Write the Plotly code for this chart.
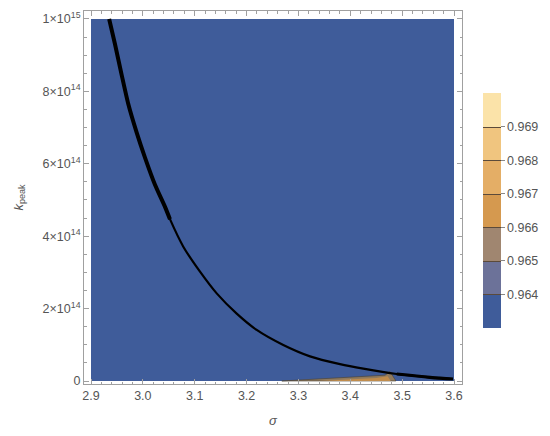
import plotly.graph_objects as go

# plot range of the density region
sigma_range = [2.9, 3.6]
kpeak_range = [0, 1e15]
ns_field = [[0.9635, 0.9635], [0.9635, 0.9635]]

# colour bands 0.963 .. 0.970
band_colors = ["#3f5c9a", "#6c7299", "#a08670", "#d5994f", "#e4ae66", "#f0c57f", "#fbe3a9"]
cbar_ticks = [0.964, 0.965, 0.966, 0.967, 0.968, 0.969]

# black contour curve
curve_sigma = [2.935, 2.9463, 2.9592, 2.9719, 2.9881, 3.0041, 3.0234, 3.0427, 3.0523,
               3.078, 3.1102, 3.1424, 3.181, 3.2195, 3.2708, 3.3223, 3.3801, 3.4251,
               3.4895, 3.5537, 3.598]
curve_k = [1.0e15, 9.30e14, 8.45e14, 7.65e14, 6.86e14, 6.17e14, 5.42e14, 4.81e14, 4.47e14,
           3.71e14, 3.02e14, 2.42e14, 1.86e14, 1.41e14, 9.94e13, 6.8e13, 4.65e13, 3.4e13,
           1.93e13, 1.02e13, 5.5e12]

# thin tan sliver near k = 0
sliver_sigma = [3.268, 3.342, 3.419, 3.467, 3.4766, 3.4823, 3.488, 3.268]
sliver_k = [0, 6e12, 1.1e13, 1.6e13, 2.6e13, 1.2e13, 0, 0]
core_sigma = [3.34, 3.40, 3.45, 3.472, 3.478, 3.34]
core_k = [0, 5e12, 8e12, 1.3e13, 0, 0]

n = len(band_colors)
colorscale = []
for i, c in enumerate(band_colors):
    colorscale.append([i / n, c])
    colorscale.append([(i + 1) / n, c])

fig = go.Figure()

fig.add_trace(go.Contour(
    x=sigma_range, y=kpeak_range, z=ns_field,
    autocontour=False,
    contours=dict(start=0.964, end=0.969, size=0.001, coloring="fill", showlines=True),
    line=dict(color="#5b4a3a", width=1),
    colorscale=colorscale, zmin=0.963, zmax=0.970,
    colorbar=dict(
        thickness=18, len=255, lenmode="pixels",
        x=1.0556, xanchor="left", xpad=0, y=0.465, yanchor="middle",
        outlinewidth=0, tickvals=cbar_ticks, ticktext=[f"{t:.3f}" for t in cbar_ticks],
        ticks="outside", ticklen=4, tickcolor="#888888",
        tickfont=dict(size=12.5, color="#555555"),
    ),
    hoverinfo="skip",
))

fig.add_trace(go.Scatter(x=sliver_sigma, y=sliver_k, fill="toself", mode="lines",
                         fillcolor="#8f7a5e", line=dict(color="#4a3f30", width=0.6),
                         showlegend=False))
fig.add_trace(go.Scatter(x=core_sigma, y=core_k, fill="toself", mode="lines",
                         fillcolor="#c08c4c", line=dict(width=0), showlegend=False))

# full curve, then thicker upper part and the rough lower-right tail
fig.add_trace(go.Scatter(x=curve_sigma, y=curve_k, mode="lines",
                         line=dict(color="black", width=2.2, shape="spline", smoothing=0.6),
                         showlegend=False))
fig.add_trace(go.Scatter(x=curve_sigma[:9], y=curve_k[:9], mode="lines",
                         line=dict(color="black", width=4, shape="spline", smoothing=0.6),
                         showlegend=False))
fig.add_trace(go.Scatter(x=curve_sigma[-3:], y=curve_k[-3:], mode="lines",
                         line=dict(color="black", width=3.2, shape="spline"),
                         showlegend=False))

axis_common = dict(showline=True, linecolor="#a0a0a0", linewidth=1, mirror="allticks",
                   ticks="inside", ticklen=5, tickcolor="#a0a0a0", showgrid=False,
                   zeroline=False, automargin=False,
                   tickfont=dict(size=12.5, color="#555555"))

fig.update_xaxes(range=[2.8865, 3.6154], dtick=0.1, tick0=2.9, tickformat=".1f",
                 minor=dict(dtick=0.02, ticklen=2.5, ticks="inside", tickcolor="#a0a0a0"),
                 title=dict(text="<i>σ</i>", font=dict(size=13, color="#555555"), standoff=14),
                 **axis_common)
fig.update_yaxes(range=[-0.0083e15, 1.022e15],
                 tickvals=[0, 2e14, 4e14, 6e14, 8e14, 1e15],
                 ticktext=["0", "2×10<sup>14</sup>", "4×10<sup>14</sup>", "6×10<sup>14</sup>",
                           "8×10<sup>14</sup>", "1×10<sup>15</sup>"],
                 minor=dict(dtick=5e13, ticklen=2.5, ticks="inside", tickcolor="#a0a0a0"),
                 title=dict(text="<i>k</i><sub>peak</sub>", font=dict(size=13, color="#555555"), standoff=16),
                 **axis_common)

# the page body adds an 8px offset, so the figure is a bit smaller than the window
fig.update_layout(
    width=534, height=420,
    margin=dict(l=76, r=80, t=3, b=44, autoexpand=False),
    paper_bgcolor="white", plot_bgcolor="white",
    font=dict(family="Liberation Sans, Arial, sans-serif", color="#555555"),
    showlegend=False,
)

fig.write_html("out.html")
